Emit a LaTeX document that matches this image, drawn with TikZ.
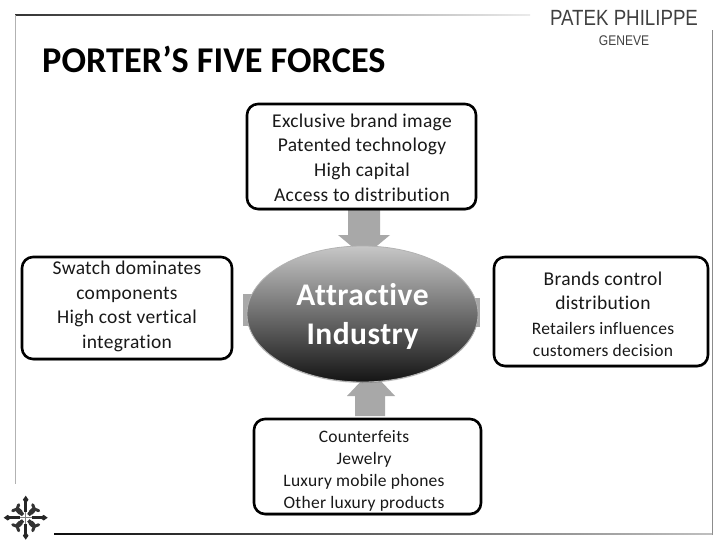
\documentclass[tikz,border=0pt]{standalone}
\usepackage{fontspec}
\setmainfont[LetterSpace=1.5,Ligatures=CommonOff]{Carlito}
\newfontfamily\titlefont[Ligatures=CommonOff]{Carlito}
\newfontfamily\logofont{Liberation Sans}
\usetikzlibrary{shapes.geometric,shadows}
\definecolor{arrowgrey}{HTML}{A8A8A8}
\definecolor{logogrey}{HTML}{404040}
\newcommand{\smalltxt}{\fontsize{17.5}{22}\selectfont}
\tikzset{
  x=1pt,y=-1pt,
  forcebox/.style={draw=black,line width=2.6pt,rounded corners=11pt,fill=white,inner sep=0pt,
    drop shadow={shadow xshift=.8pt,shadow yshift=-1.5pt,fill=black,opacity=.35}},
  forcetext/.style={font=\fontsize{19.5}{24.6}\selectfont,align=center,inner sep=0pt,text=black!90},
  smalltext/.style={font=\smalltxt,align=center,inner sep=0pt,text=black!90},
  block/.style={fill=arrowgrey,draw=none},
  lobe/.style={line width=3pt,draw=black!80,line cap=round},
}
\begin{document}
\begin{tikzpicture}
\useasboundingbox (0,0) rectangle (728,546);
\fill[white] (0,0) rectangle (728,546);
% slide frame
\shade[left color=black!80,right color=black!8] (15,14.5) rectangle (530,15.7);
\draw[black!30,line width=1pt] (15,15) -- (15,484);
\draw[black!45,line width=1pt] (712,30) -- (712,535);
\shade[left color=black!95,right color=black!25] (54,533.5) rectangle (712,534.7);
% title, logo
\node[anchor=west,inner sep=0pt,font=\titlefont\bfseries\fontsize{36.3}{40}\selectfont] (title) at (42,59.5) {PORTER’S FIVE FORCES};
\node[inner sep=0pt,text=logogrey,font=\logofont\fontsize{22}{24}\selectfont] (logo) at (624,18) {\scalebox{.85}[1]{PATEK PHILIPPE}};
\node[inner sep=0pt,text=logogrey,font=\logofont\fontsize{14}{16}\selectfont] (geneve) at (624,41) {\scalebox{.86}[1]{GENEVE}};
% emblem
\begin{scope}[shift={(25.7,517.7)}]
  \foreach \a in {0,90,180,270}{
    \begin{scope}[rotate=\a]
      \draw[line width=3pt,draw=black!85] (0,-6) -- (0,-17);
      \fill[black!85] (0,-22) -- (2.8,-18) -- (0,-14) -- (-2.8,-18) -- cycle;
      \draw[lobe] (3,-4) .. controls (8,-4) and (10,-8) .. (7,-13);
      \draw[lobe] (-3,-4) .. controls (-8,-4) and (-10,-8) .. (-7,-13);
      \draw[black!50,line width=.8pt] (0,0) -- (0,-6);
    \end{scope}
  }
\end{scope}
% arrows
\fill[block] (348,209) -- (380,209) -- (380,235) -- (390,235) -- (372,250) -- (356,250) -- (338,235) -- (348,235) -- cycle;
\fill[block] (355,416) -- (385,416) -- (385,396) -- (395,396) -- (378,378) -- (364,378) -- (347,396) -- (355,396) -- cycle;
\fill[block] (243,294) rectangle (262,326);
\fill[block] (460,298) rectangle (480,327);
% centre
\node[ellipse,minimum width=231pt,minimum height=136pt,inner sep=0pt,draw=black!30,line width=.8pt,
  top color=black!22,middle color=black!52,bottom color=black!92,
  drop shadow={shadow xshift=0pt,shadow yshift=-1pt,fill=black,opacity=.2}] (core) at (362.5,314) {};
\node[text=white,align=center,inner sep=0pt,font=\bfseries\fontsize{31.5}{39}\selectfont] (corelabel) at (362.5,316.5) {Attractive\\Industry};
% boxes
\node[forcebox,minimum width=229pt,minimum height=105pt] (top) at (361.5,156.5) {};
\node[forcetext] (toptext) at (362,157.5) {Exclusive brand image\\Patented technology\\High capital\\Access to distribution};
\node[forcebox,minimum width=227pt,minimum height=95pt] (bottom) at (367.5,466.5) {};
\node[smalltext] (bottomtext) at (364,471) {Counterfeits\\Jewelry\\Luxury mobile phones\\Other luxury products};
\node[forcebox,minimum width=210pt,minimum height=102pt] (left) at (127,308) {};
\node[forcetext] (lefttext) at (127,306.5) {Swatch dominates\\components\\High cost vertical\\integration};
\node[forcebox,minimum width=214pt,minimum height=109pt] (right) at (601,311.5) {};
\node[forcetext] (righttext) at (603,314) {Brands control\\distribution\\\smalltxt Retailers influences\\[-2.4pt]\smalltxt customers decision};
\end{tikzpicture}
\end{document}
